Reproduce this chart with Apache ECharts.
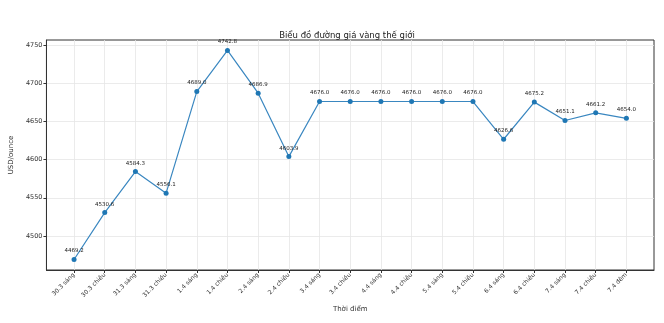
<!DOCTYPE html>
<html>
<head>
<meta charset="utf-8">
<script src="https://cdn.jsdelivr.net/npm/echarts@6/dist/echarts.min.js"></script>
<style>
  html, body { margin: 0; padding: 0; background: #fff; }
  #chart { width: 664px; height: 323px; }
</style>
</head>
<body>
<div id="chart"></div>
<script>
// Thời điểm lấy giá
const categories = [
  '30.3 sáng', '30.3 chiều', '31.3 sáng', '31.3 chiều', '1.4 sáng', '1.4 chiều',
  '2.4 sáng', '2.4 chiều', '3.4 sáng', '3.4 chiều', '4.4 sáng', '4.4 chiều',
  '5.4 sáng', '5.4 chiều', '6.4 sáng', '6.4 chiều', '7.4 sáng', '7.4 chiều', '7.4 đêm'
];
// Giá vàng thế giới (USD/ounce)
const prices = [
  4469.2, 4530.6, 4584.3, 4556.1, 4689.0, 4742.8, 4686.9, 4603.9,
  4676.0, 4676.0, 4676.0, 4676.0, 4676.0, 4676.0,
  4626.6, 4675.2, 4651.1, 4661.2, 4654.0
];
const yTicks = [4500, 4550, 4600, 4650, 4700, 4750];

const xIdx = categories.map((_, i) => i);
const pad = 0.05;
const xMin = -pad * (categories.length - 1);
const xMax = (categories.length - 1) * (1 + pad);
const pMin = Math.min(...prices), pMax = Math.max(...prices);
const yMin = pMin - pad * (pMax - pMin);
const yMax = pMax + pad * (pMax - pMin);

const font = 'DejaVu Sans';
const ink = '#333';
const chart = echarts.init(document.getElementById('chart'), null, { renderer: 'canvas' });
chart.setOption({
  animation: false,
  backgroundColor: '#fff',
  title: {
    text: 'Biểu đồ đường giá vàng thế giới',
    left: 342, top: 26, textAlign: 'center',
    textStyle: { fontFamily: font, fontSize: 8.5, fontWeight: 'normal', color: '#222' }
  },
  grid: {
    left: 31, right: 10, top: 40, bottom: 53,
    show: true, borderColor: ink, borderWidth: 1, backgroundColor: 'transparent'
  },
  xAxis: {
    type: 'value', min: xMin, max: xMax,
    name: 'Thời điểm', nameLocation: 'middle', nameGap: 31,
    nameTextStyle: { fontFamily: font, fontSize: 7, color: ink },
    axisLine: { show: true, onZero: false, lineStyle: { color: ink, width: 1 } },
    axisTick: { show: true, customValues: xIdx, length: 3, lineStyle: { color: ink } },
    axisLabel: {
      customValues: xIdx, rotate: 45, fontFamily: font, fontSize: 6, color: ink, margin: 4,
      formatter: v => categories[Math.round(v)]
    },
    splitLine: { show: true, lineStyle: { color: '#e6e6e6', width: 0.8 } }
  },
  yAxis: {
    type: 'value', min: yMin, max: yMax,
    name: 'USD/ounce', nameLocation: 'middle', nameGap: 24,
    nameTextStyle: { fontFamily: font, fontSize: 7, color: ink },
    axisLine: { show: true, onZero: false, lineStyle: { color: ink, width: 1 } },
    axisTick: { show: true, customValues: yTicks, length: 3, lineStyle: { color: ink } },
    axisLabel: {
      customValues: yTicks, fontFamily: font, fontSize: 6.5, color: ink, margin: 4,
      formatter: v => String(Math.round(v))
    },
    splitLine: { show: true, lineStyle: { color: '#e6e6e6', width: 0.8 } }
  },
  series: [{
    type: 'line',
    data: prices.map((v, i) => [i, v]),
    color: '#1f77b4',
    lineStyle: { width: 1.2, color: '#3a87c0' },
    symbol: 'circle', symbolSize: 5,
    itemStyle: { color: '#1f77b4' },
    label: {
      show: true, position: 'top', distance: 3,
      fontFamily: font, fontSize: 5.5, color: '#222',
      formatter: p => p.value[1].toFixed(1)
    }
  }]
});
</script>
</body>
</html>
